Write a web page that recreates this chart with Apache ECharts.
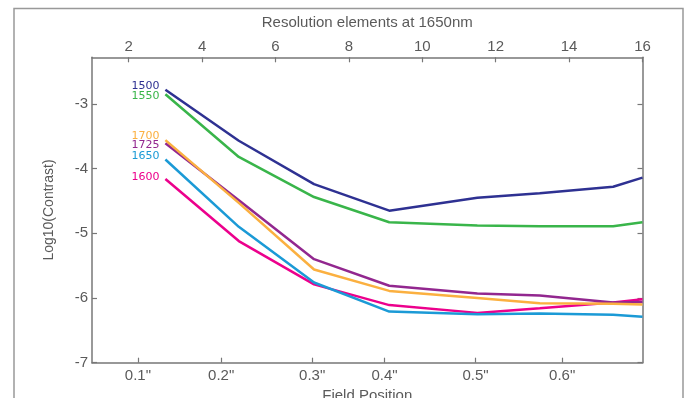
<!DOCTYPE html>
<html>
<head>
<meta charset="utf-8">
<script src="https://cdn.jsdelivr.net/npm/echarts@6/dist/echarts.min.js"></script>
<style>html,body{margin:0;padding:0;background:#fff;}#c{width:686px;height:398px;}</style>
</head>
<body>
<div id="c"></div>
<script>
// Top axis ticks (resolution elements at 1650nm)
const topTicks = [2, 4, 6, 8, 10, 12, 14, 16];
// Bottom axis: field position labels and where they sit in resolution-element units
const fieldLabels = ['0.1"', '0.2"', '0.3"', '0.4"', '0.5"', '0.6"'];
const fieldTickElements = [2.25, 4.52, 7.0, 8.97, 11.45, 13.81];
// Y ticks
const yTicks = [-7, -6, -5, -4, -3];
// Sample positions (resolution elements)
const elements = [3, 5, 7.05, 9.1, 11.5, 13.2, 15.2, 16];
// Series (log10 contrast) per wavelength
const wavelengths = ['1500', '1550', '1700', '1725', '1650', '1600'];
const c1500 = [-2.78, -3.57, -4.24, -4.65, -4.45, -4.38, -4.28, -4.14];
const c1550 = [-2.85, -3.82, -4.44, -4.83, -4.88, -4.89, -4.89, -4.83];
const c1700 = [-3.56, -4.53, -5.56, -5.89, -6.00, -6.08, -6.09, -6.10];
const c1725 = [-3.61, -4.49, -5.40, -5.81, -5.93, -5.96, -6.07, -6.06];
const c1650 = [-3.86, -4.90, -5.76, -6.21, -6.25, -6.24, -6.26, -6.29];
const c1600 = [-4.16, -5.12, -5.79, -6.11, -6.23, -6.16, -6.07, -6.02];

const colors = ['#2e3192', '#39b54a', '#fbb040', '#92278f', '#1b9ad6', '#ec008c'];
const labelOffsets = [-4, 2, -4, 2, -3, -2];
const seriesData = [c1500, c1550, c1700, c1725, c1650, c1600];

const axisFont = "'Liberation Sans', sans-serif";
const textColor = '#5a5a5a';
const axisLine = {show: true, lineStyle: {color: '#777', width: 1.5}};

const chart = echarts.init(document.getElementById('c'), null, {renderer: 'canvas'});
chart.setOption({
  animation: false,
  backgroundColor: '#fff',
  graphic: [{
    type: 'rect', silent: true, z: -10,
    shape: {x: 14, y: 8.5, width: 669, height: 420},
    style: {fill: 'none', stroke: '#999', lineWidth: 1.5}
  }],
  grid: {left: 92, right: 43.5, top: 57.3, bottom: 35.3, containLabel: false, outerBoundsMode: 'none'},
  xAxis: [{
    type: 'value', position: 'top', min: 1, max: 16,
    name: 'Resolution elements at 1650nm', nameLocation: 'middle', nameGap: 27,
    nameTextStyle: {color: textColor, fontSize: 15, fontFamily: axisFont},
    axisLine: axisLine,
    axisTick: {show: true, inside: true, length: 5, customValues: topTicks, lineStyle: {color: '#777', width: 1.2}},
    axisLabel: {show: true, customValues: topTicks, color: textColor, fontSize: 15, fontFamily: axisFont, margin: 3},
    splitLine: {show: false}
  }, {
    type: 'value', position: 'bottom', min: 1, max: 16,
    name: 'Field Position', nameLocation: 'middle', nameGap: 24,
    nameTextStyle: {color: textColor, fontSize: 15, fontFamily: axisFont},
    axisLine: axisLine,
    axisTick: {show: true, inside: true, length: 5, customValues: fieldTickElements, lineStyle: {color: '#777', width: 1.2}},
    axisLabel: {show: true, customValues: fieldTickElements, color: textColor, fontSize: 15, fontFamily: axisFont, margin: 6,
      formatter: function (v) {
        let best = 0;
        fieldTickElements.forEach(function (p, i) { if (Math.abs(p - v) < Math.abs(fieldTickElements[best] - v)) best = i; });
        return fieldLabels[best];
      }},
    splitLine: {show: false}
  }],
  yAxis: [{
    type: 'value', position: 'left', min: -7, max: -2.28,
    name: 'Log10(Contrast)', nameLocation: 'middle', nameGap: 36, nameRotate: 90,
    nameTextStyle: {color: textColor, fontSize: 14, fontFamily: axisFont},
    axisLine: axisLine,
    axisTick: {show: true, inside: true, length: 5, customValues: yTicks, lineStyle: {color: '#777', width: 1.2}},
    axisLabel: {show: true, customValues: yTicks, color: textColor, fontSize: 15, fontFamily: axisFont, margin: 4},
    splitLine: {show: false}
  }, {
    type: 'value', position: 'right', min: -7, max: -2.28,
    axisLine: axisLine,
    axisTick: {show: true, inside: true, length: 5, customValues: yTicks, lineStyle: {color: '#777', width: 1.2}},
    axisLabel: {show: false},
    splitLine: {show: false}
  }],
  series: seriesData.map(function (vals, i) {
    return {
      name: wavelengths[i], type: 'line', xAxisIndex: 0, yAxisIndex: 0,
      data: vals.map(function (v, j) { return [elements[j], v]; }),
      symbol: 'none', smooth: false,
      lineStyle: {color: colors[i], width: 2.5},
      itemStyle: {color: colors[i]},
      markPoint: {
        symbol: 'circle', symbolSize: 0, silent: true, animation: false,
        data: [{coord: [elements[0], vals[0]], value: wavelengths[i]}],
        label: {
          show: true, position: 'left', distance: 6, offset: [0, labelOffsets[i]],
          color: colors[i], fontSize: 11, fontFamily: "'DejaVu Sans', sans-serif",
          formatter: wavelengths[i]
        }
      },
      z: 10 - i
    };
  })
});
</script>
</body>
</html>
